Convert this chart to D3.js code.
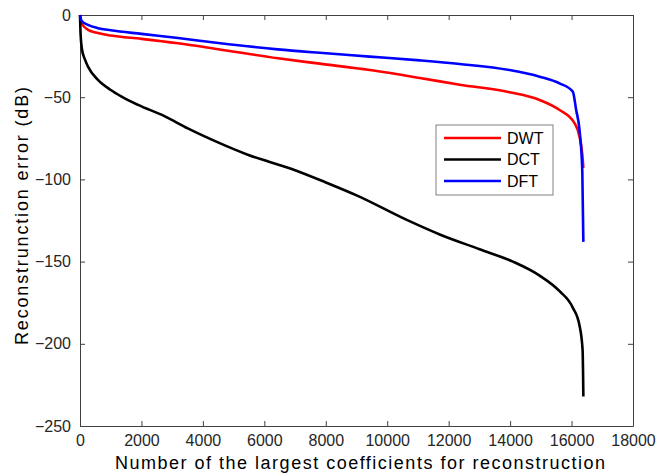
<!DOCTYPE html>
<meta charset="utf-8">
<title>reconstruction error</title>
<style>
body { margin: 0; background: #fff; }
svg { font-family: "Liberation Sans", Arial, sans-serif; }
.axis path, .axis line { stroke: #404040; }
.axis text { fill: #262626; font-size: 16px; }
</style>
<svg width="660" height="476"></svg>
<script src="https://cdn.jsdelivr.net/npm/d3@7"></script>
<script>

// values (number of coefficients kept, error in dB)
var dwtX = [0, 50, 260, 585, 1000, 2000, 3190, 4500, 6440, 7800, 9430, 11060, 12360, 13980, 14960, 15610, 16100, 16260, 16350, 16384];
var dwtY = [0, -5, -9, -11, -12.5, -14.5, -17.2, -20.8, -26.3, -29.6, -33.5, -38.3, -42.4, -47, -51.7, -57.8, -65.9, -74, -85, -93];

var dctX = [0, 20, 65, 160, 260, 585, 1000, 1340, 1890, 2750, 3510, 4490, 5460, 6870, 7960, 9040, 10620, 11710, 13010, 14090, 14960, 15610, 16040, 16260, 16360, 16384];
var dctY = [0, -12, -21, -27, -31.4, -39.5, -45.6, -49.5, -54.7, -61.5, -69, -77.5, -85, -93.5, -101.5, -110, -124.5, -133.5, -142.5, -150, -158.5, -168, -178, -189, -204, -232];

var dftX = [0, 50, 260, 585, 1000, 2000, 3190, 4500, 6440, 7800, 9430, 11060, 12360, 13980, 14960, 15610, 16040, 16150, 16260, 16350, 16384];
var dftY = [0, -3.5, -6, -8, -9.3, -11.5, -14, -17, -20.9, -23, -25.3, -27.6, -29.8, -33.5, -37.5, -41.6, -46.6, -57.8, -70, -95, -138];

var xTicks = d3.range(0, 18001, 2000);
var yTicks = [0, -50, -100, -150, -200, -250];

var series = [
  {name: "DWT", xs: dwtX, ys: dwtY, color: "#ff0000"},
  {name: "DCT", xs: dctX, ys: dctY, color: "#000000"},
  {name: "DFT", xs: dftX, ys: dftY, color: "#0000ff"}
];

var svg = d3.select("svg"),
    margin = {top: 15, right: 27, bottom: 50, left: 80},
    width = 660 - margin.left - margin.right,
    height = 476 - margin.top - margin.bottom;

var x = d3.scaleLinear().domain([0, 18000]).range([0, width]);
var y = d3.scaleLinear().domain([-250, 0]).range([height, 0]);
var fmt = d3.format("d");

var g = svg.append("g")
    .attr("transform", "translate(" + margin.left + "," + margin.top + ")");

// inward ticks on all four sides, matlab style box
g.append("g").attr("class", "axis")
    .attr("transform", "translate(0," + height + ")")
    .call(d3.axisBottom(x).tickValues(xTicks).tickFormat(fmt).tickSizeInner(-5).tickSizeOuter(0).tickPadding(9));
g.append("g").attr("class", "axis")
    .call(d3.axisTop(x).tickValues(xTicks).tickSizeInner(-5).tickSizeOuter(0).tickFormat(""));
g.append("g").attr("class", "axis")
    .call(d3.axisLeft(y).tickValues(yTicks).tickFormat(fmt).tickSizeInner(-5).tickSizeOuter(0).tickPadding(9));
g.append("g").attr("class", "axis")
    .attr("transform", "translate(" + width + ",0)")
    .call(d3.axisRight(y).tickValues(yTicks).tickSizeInner(-5).tickSizeOuter(0).tickFormat(""));

var line = d3.line()
    .x(function(d) { return x(d[0]); })
    .y(function(d) { return y(d[1]); })
    .curve(d3.curveMonotoneX);

g.selectAll(".curve")
    .data(series)
  .enter().append("path")
    .attr("class", "curve")
    .attr("fill", "none")
    .attr("stroke", function(d) { return d.color; })
    .attr("stroke-width", 2.6)
    .attr("d", function(d) { return line(d3.zip(d.xs, d.ys)); });

// legend
var legend = svg.append("g").attr("transform", "translate(436,125)");
legend.append("rect")
    .attr("width", 117).attr("height", 70)
    .attr("fill", "#fff").attr("stroke", "#808080");
var item = legend.selectAll(".item")
    .data(series)
  .enter().append("g")
    .attr("transform", function(d, i) { return "translate(0," + (13 + i * 21.5) + ")"; });
item.append("line")
    .attr("x1", 8).attr("x2", 65)
    .attr("stroke", function(d) { return d.color; })
    .attr("stroke-width", 2.6);
item.append("text")
    .attr("x", 71).attr("dy", "0.36em")
    .style("font-size", "16px").attr("fill", "#000")
    .text(function(d) { return d.name; });

// axis titles
svg.append("text")
    .attr("x", 115).attr("y", 469)
    .attr("textLength", 490).attr("lengthAdjust", "spacing")
    .style("font-size", "18px").attr("fill", "#000")
    .text("Number of the largest coefficients for reconstruction");
svg.append("text")
    .attr("transform", "translate(28,345) rotate(-90)")
    .attr("textLength", 258).attr("lengthAdjust", "spacing")
    .style("font-size", "18px").attr("fill", "#000")
    .text("Reconstrunction error (dB)");

</script>
